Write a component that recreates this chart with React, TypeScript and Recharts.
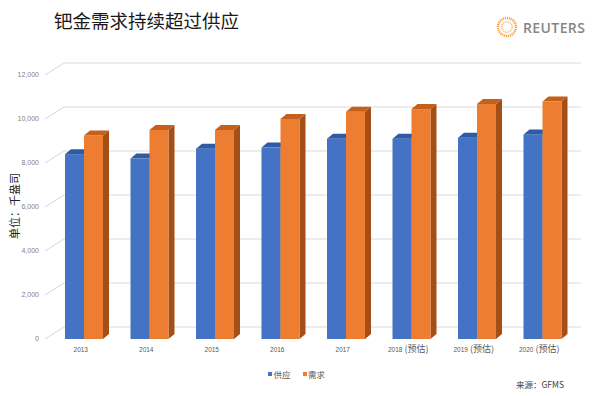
import React from "react";
import { BarChart, Bar, XAxis, YAxis, CartesianGrid } from "recharts";

// 数据（单位：千盎司）
const years = ["2013", "2014", "2015", "2016", "2017", "2018 (预估)", "2019 (预估)", "2020 (预估)"];
const supply = [8400, 8200, 8650, 8700, 9100, 9100, 9150, 9300];
const demand = [9250, 9500, 9500, 10000, 10330, 10450, 10680, 10790];
const yTicks = [0, 2000, 4000, 6000, 8000, 10000, 12000];
const seriesNames = ["供应", "需求"];

const data = years.map((year, i) => ({ year, supply: supply[i], demand: demand[i] }));

const BLUE = { front: "#4472c4", top: "#2f5aa6", side: "#2f528f" };
const ORANGE = { front: "#ed7d31", top: "#c55f1c", side: "#a44f17" };

const cjk = "'Noto Sans CJK SC', 'Noto Sans', sans-serif";

// 3D 柱形
const make3DBar = (c: { front: string; top: string; side: string }) => (props: any) => {
  const { x, y, width, height } = props;
  if (height == null || height <= 0) return <g />;
  const dx = 6;
  const dy = 5;
  return (
    <g>
      <polygon
        points={`${x + width},${y} ${x + width + dx},${y - dy} ${x + width + dx},${y + height - dy} ${x + width},${y + height}`}
        fill={c.side}
      />
      <rect x={x} y={y} width={width} height={height} fill={c.front} />
      <polygon
        points={`${x},${y} ${x + dx},${y - dy} ${x + width + dx},${y - dy} ${x + width},${y}`}
        fill={c.top}
      />
    </g>
  );
};

// 网格线：前沿斜线 + 后墙水平线
const gridLine = (props: any) => {
  const { x1, x2, y1, index } = props;
  return (
    <polyline
      key={`g-${index}`}
      points={`${x1 - 6},${y1} ${x1 + 13},${y1 - 12} ${x2 + 6},${y1 - 12}`}
      fill="none"
      stroke="#d9d9d9"
      strokeWidth={1}
    />
  );
};

const XTick = ({ x, y, payload }: any) => {
  const [yr, extra] = String(payload.value).split(" ");
  return (
    <text x={x - 3} y={y + 4.5} textAnchor="middle" fill="#595959">
      <tspan fontFamily="'Liberation Sans', sans-serif" fontSize={6.5}>{yr}</tspan>
      {extra && (
        <tspan fontFamily={cjk} fontSize={9}>{" " + extra}</tspan>
      )}
    </text>
  );
};

const ReutersLogo = () => (
  <div style={{ position: "absolute", left: 496, top: 16, display: "flex", alignItems: "center" }}>
    <svg width={22} height={22} viewBox="0 0 22 22">
      <circle cx={11} cy={11} r={9} fill="none" stroke="#f5a54a" strokeWidth={2.5} strokeDasharray="1.2 0.8" />
      <circle cx={11} cy={11} r={5.2} fill="none" stroke="#f7b76a" strokeWidth={1.6} strokeDasharray="1 0.8" />
    </svg>
    <span
      style={{
        marginLeft: 5,
        fontFamily: "'Open Sans', 'Liberation Sans', sans-serif",
        fontWeight: 600,
        fontSize: 14,
        color: "#858585",
        letterSpacing: 0.4,
      }}
    >
      REUTERS
    </span>
  </div>
);

export default function App() {
  const colors = [BLUE.front, ORANGE.front];
  return (
    <div
      style={{
        position: "absolute",
        left: 0,
        top: 0,
        width: 600,
        height: 396,
        background: "#fff",
        overflow: "hidden",
      }}
    >
      <div
        style={{
          position: "absolute",
          left: 54,
          top: 8,
          fontFamily: cjk,
          fontSize: 18.5,
          lineHeight: "24px",
          color: "#1a1a1a",
        }}
      >
        钯金需求持续超过供应
      </div>
      <ReutersLogo />

      <div
        style={{
          position: "absolute",
          left: 14,
          top: 206,
          transform: "translate(-50%, -50%) rotate(-90deg)",
          fontFamily: cjk,
          fontSize: 11,
          color: "#262626",
          whiteSpace: "nowrap",
        }}
      >
        单位：千盎司
      </div>

      <div style={{ position: "absolute", left: 0, top: 0 }}>
        <BarChart
          width={600}
          height={396}
          data={data}
          margin={{ top: 75, right: 25, bottom: 27, left: 0 }}
          barGap={0}
          barSize={19}
        >
          <CartesianGrid vertical={false} horizontal={gridLine} />
          <XAxis
            dataKey="year"
            height={30}
            tickLine={false}
            axisLine={false}
            tick={<XTick />}
            interval={0}
          />
          <YAxis
            width={51}
            domain={[0, 12000]}
            ticks={yTicks}
            tickLine={false}
            axisLine={false}
            tickMargin={6}
            tickFormatter={(v: number) => v.toLocaleString("en-US")}
            tick={{ fontSize: 7, fill: "#7f7f7f", fontFamily: "'Liberation Sans', sans-serif" }}
          />
          <Bar dataKey="supply" name={seriesNames[0]} fill={BLUE.front} shape={make3DBar(BLUE)} isAnimationActive={false} />
          <Bar dataKey="demand" name={seriesNames[1]} fill={ORANGE.front} shape={make3DBar(ORANGE)} isAnimationActive={false} />
        </BarChart>
      </div>

      <div
        style={{
          position: "absolute",
          left: 268,
          top: 368,
          display: "flex",
          alignItems: "center",
          fontFamily: cjk,
          fontSize: 8.5,
          color: "#595959",
          lineHeight: "12px",
        }}
      >
        {seriesNames.map((n, i) => (
          <div key={n} style={{ display: "flex", alignItems: "center", marginRight: 12 }}>
            <span style={{ width: 4, height: 4, background: colors[i], marginRight: 1.5, display: "inline-block" }} />
            <span>{n}</span>
          </div>
        ))}
      </div>

      <div
        style={{
          position: "absolute",
          left: 516,
          top: 378,
          fontFamily: cjk,
          fontSize: 8.5,
          color: "#404040",
          lineHeight: "12px",
          whiteSpace: "nowrap",
        }}
      >
        来源：GFMS
      </div>
    </div>
  );
}
